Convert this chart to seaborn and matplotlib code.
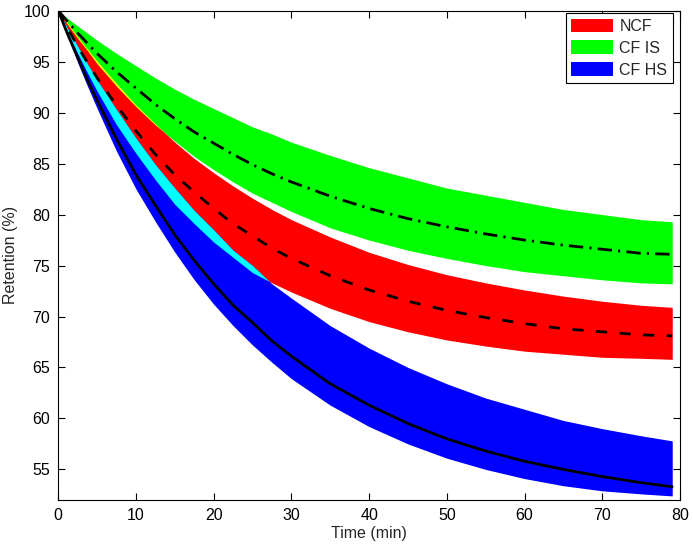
import numpy as np
import pandas as pd
import matplotlib
matplotlib.use("Agg")
import matplotlib.pyplot as plt
import seaborn as sns
from matplotlib.patches import Patch

# ---- data ----
time_min = [0, 1.25, 2.5, 3.75, 5, 7.5, 10, 12.5, 15, 17.5, 20, 22.5, 25, 27.5, 30,
            35, 40, 45, 50, 55, 60, 65, 70, 75, 79]

ncf_mean  = [100, 98.2, 96.5, 94.9, 93.4, 90.7, 88.2, 85.9, 83.9, 82.2, 80.6, 79.1, 77.9, 76.7, 75.7,
             74.0, 72.6, 71.5, 70.6, 69.9, 69.3, 68.8, 68.5, 68.2, 68.1]
ncf_upper = [100, 98.75, 97.45, 96.25, 95.05, 92.85, 90.75, 88.9, 87.1, 85.5, 84.1, 82.8, 81.6, 80.5, 79.5,
             77.8, 76.3, 75.1, 74.1, 73.3, 72.6, 72.0, 71.5, 71.1, 70.9]
ncf_lower = [100, 97.8, 95.8, 93.9, 92.1, 88.8, 86.0, 83.4, 81.0, 79.1, 77.3, 75.8, 74.3, 73.3, 72.4,
             70.8, 69.5, 68.5, 67.7, 67.1, 66.6, 66.3, 66.0, 65.9, 65.8]

cfis_mean  = [100, 98.9, 97.8, 96.8, 95.8, 94.0, 92.4, 90.8, 89.4, 88.1, 87.0, 85.9, 84.9, 84.0, 83.2,
              81.8, 80.6, 79.6, 78.8, 78.1, 77.5, 77.0, 76.6, 76.2, 76.1]
cfis_upper = [100, 99.2, 98.5, 97.8, 97.1, 95.8, 94.6, 93.4, 92.3, 91.3, 90.4, 89.5, 88.6, 87.9, 87.1,
              85.8, 84.6, 83.6, 82.6, 81.9, 81.2, 80.5, 80.0, 79.5, 79.3]
cfis_lower = [100, 98.6, 97.3, 96.1, 94.8, 92.6, 90.6, 88.8, 87.2, 85.7, 84.4, 83.2, 82.1, 81.2, 80.3,
              78.7, 77.5, 76.5, 75.7, 75.0, 74.4, 74.0, 73.6, 73.3, 73.2]

cfhs_mean  = [100, 97.6, 95.4, 93.2, 91.2, 87.4, 83.9, 80.9, 78.0, 75.5, 73.2, 71.1, 69.4, 67.6, 66.1,
              63.4, 61.3, 59.5, 58.0, 56.8, 55.8, 55.0, 54.3, 53.7, 53.3]
cfhs_upper = [100, 98.2, 96.5, 94.8, 93.2, 90.3, 87.5, 84.9, 82.6, 80.4, 78.5, 76.5, 75.0, 73.2, 71.8,
              69.1, 66.9, 65.0, 63.4, 62.0, 60.9, 59.8, 59.0, 58.3, 57.8]
cfhs_lower = [100, 97.4, 94.9, 92.6, 90.4, 86.2, 82.5, 79.3, 76.3, 73.6, 71.2, 69.1, 67.2, 65.5, 63.9,
              61.3, 59.2, 57.5, 56.1, 55.0, 54.1, 53.4, 52.9, 52.6, 52.4]

legend_labels = ["NCF", "CF IS", "CF HS"]
x_ticks = [0, 10, 20, 30, 40, 50, 60, 70, 80]
y_ticks = [55, 60, 65, 70, 75, 80, 85, 90, 95, 100]

# ---- style ----
sns.set_style("ticks")
plt.rcParams["font.family"] = ["Liberation Sans", "DejaVu Sans"]
FS = 11.5
plt.rcParams["font.size"] = FS

fig = plt.figure(figsize=(6.93, 5.46), dpi=100)
ax = fig.add_axes([58.3 / 693, 1 - 500 / 546, (680 - 58.3) / 693, (500 - 10.7) / 546])

t = np.array(time_min)
RED, GREEN, BLUE = "#FF0000", "#00FF00", "#0000FF"

ax.fill_between(t, ncf_lower, ncf_upper, color=RED, lw=0, zorder=1)
ax.fill_between(t, cfis_lower, cfis_upper, color=GREEN, lw=0, zorder=1)
ax.fill_between(t, cfhs_lower, cfhs_upper, color=BLUE, lw=0, zorder=1)

# overlaps
ncf_l = np.array(ncf_lower); ncf_u = np.array(ncf_upper)
hs_u = np.array(cfhs_upper); is_l = np.array(cfis_lower)
ax.fill_between(t, ncf_l, hs_u, where=hs_u > ncf_l, interpolate=True,
                color="#00FFFF", lw=0, zorder=2)
ax.fill_between(t, is_l, ncf_u, where=ncf_u > is_l, interpolate=True,
                color="#FFFF00", lw=0, zorder=2)

df = pd.DataFrame({"t": time_min, "ncf": ncf_mean, "cfis": cfis_mean, "cfhs": cfhs_mean})
l1 = sns.lineplot(data=df, x="t", y="cfis", ax=ax, color="black", lw=2, zorder=3).lines[-1]
l1.set_dashes((5.2, 2.2, 0.8, 2.2))
l2 = sns.lineplot(data=df, x="t", y="ncf", ax=ax, color="black", lw=2, zorder=3).lines[-1]
l2.set_dashes((4, 4.5))
sns.lineplot(data=df, x="t", y="cfhs", ax=ax, color="black", lw=2, zorder=3)

ax.set_xlim(0, 80)
ax.set_ylim(52, 100)
ax.set_xticks(x_ticks)
ax.set_yticks(y_ticks)
ax.set_xlabel("Time (min)", fontsize=FS, labelpad=2)
ax.set_ylabel("Retention (%)", fontsize=FS, labelpad=4)
ax.tick_params(direction="in", top=True, right=True, length=5, width=0.8,
               labelsize=FS, colors="black", pad=6)
for s in ax.spines.values():
    s.set_visible(True)
    s.set_color("black")
    s.set_linewidth(0.8)

handles = [Patch(facecolor=c, edgecolor="none") for c in (RED, GREEN, BLUE)]
leg = ax.legend(handles, legend_labels, loc="upper right",
                bbox_to_anchor=((673 - 58.3) / (680 - 58.3), 1 - (13 - 10.7) / 489.3),
                borderaxespad=0, frameon=True, fancybox=False, framealpha=1,
                edgecolor="black", fontsize=FS, handlelength=2.6, handleheight=0.95,
                labelspacing=0.4, handletextpad=0.4, borderpad=0.35)
leg.get_frame().set_linewidth(0.8)

fig.savefig("out.png", dpi=100)
